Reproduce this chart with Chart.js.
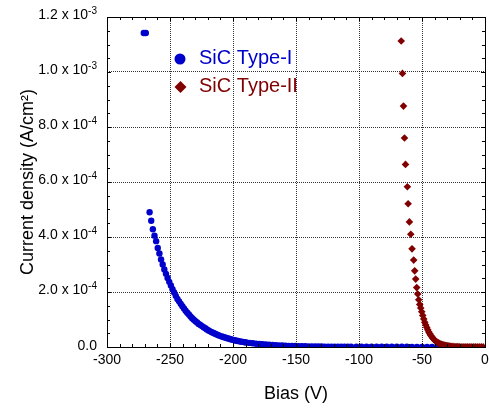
<!DOCTYPE html>
<html>
<head>
<meta charset="utf-8">
<script src="https://cdn.jsdelivr.net/npm/chart.js@4.4.0/dist/chart.umd.min.js"></script>
<style>
    body { margin: 0; background: #fff; }
    #box { width: 489px; height: 411px; }
</style>
</head>
<body>
<div id="box"><canvas id="ivChart" width="489" height="411"></canvas></div>
<script>
// Current density is stored in units of 10^-4 A/cm2
const currentUnitExp = -4;

const biasTicks = [-300, -250, -200, -150, -100, -50, 0];
const currentTicks = [0, 2, 4, 6, 8, 10, 12];

const seriesNames = ['SiC Type-I', 'SiC Type-II'];
const seriesColors = ['#0000cc', '#800000'];

// SiC Type-I : [bias (V), current density]
const typeIPoints = [
    [-270.8, 11.42], [-269.2, 11.42],
    [-266.2, 4.90], [-264.9, 4.59], [-263.6, 4.28], [-262.3, 4.05], [-261.0, 3.85], [-259.7, 3.60],
    [-258.4, 3.40], [-257.1, 3.18], [-255.8, 3.00], [-254.5, 2.82], [-253.2, 2.66], [-251.9, 2.51],
    [-250.6, 2.37], [-249.3, 2.24], [-248.0, 2.10], [-246.7, 1.98], [-245.4, 1.86], [-244.1, 1.75],
    [-242.8, 1.66], [-241.5, 1.57], [-240.2, 1.48], [-238.9, 1.40], [-237.6, 1.32], [-236.3, 1.25],
    [-235.0, 1.18], [-233.7, 1.11], [-232.4, 1.05], [-231.1, 0.99], [-229.8, 0.94], [-228.5, 0.89],
    [-227.2, 0.84], [-225.9, 0.80], [-224.6, 0.76], [-223.3, 0.72], [-222.0, 0.68], [-220.7, 0.64],
    [-219.4, 0.60], [-218.1, 0.57], [-216.8, 0.54], [-215.5, 0.51], [-214.2, 0.48], [-212.9, 0.455],
    [-211.6, 0.43], [-210.3, 0.405], [-209.0, 0.385], [-207.7, 0.365], [-206.4, 0.345], [-205.1, 0.325],
    [-203.8, 0.31], [-202.5, 0.29], [-201.2, 0.275], [-199.9, 0.26], [-198.6, 0.245], [-197.3, 0.23],
    [-196.0, 0.22], [-194.7, 0.205], [-193.4, 0.195], [-192.1, 0.185], [-190.8, 0.175], [-189.5, 0.165],
    [-186.9, 0.15], [-184.3, 0.135], [-181.7, 0.12], [-179.1, 0.11], [-176.5, 0.10], [-173.9, 0.09],
    [-171.3, 0.08], [-168.7, 0.072], [-166.1, 0.065], [-163.5, 0.058], [-160.9, 0.052], [-158.3, 0.047],
    [-155.7, 0.042], [-153.1, 0.038], [-150.5, 0.034], [-147.9, 0.031], [-145.3, 0.028], [-142.7, 0.025],
    [-140.1, 0.023], [-137.5, 0.021], [-134.9, 0.019], [-132.3, 0.017], [-129.7, 0.016], [-127.1, 0.015],
    [-124.5, 0.014], [-121.9, 0.013], [-119.3, 0.012], [-116.7, 0.011], [-114.1, 0.011], [-111.5, 0.010],
    [-108.9, 0.010], [-106.3, 0.009], [-102, 0.009], [-98, 0.009], [-94, 0.008], [-90, 0.008],
    [-86, 0.008], [-82, 0.008], [-78, 0.007], [-74, 0.007], [-70, 0.007], [-66, 0.007],
    [-62, 0.007], [-58, 0.006], [-54, 0.006], [-50, 0.006], [-46, 0.006], [-42, 0.006],
    [-38, 0.006], [-34, 0.006], [-30, 0.005], [-26, 0.005], [-22, 0.005]
];

// SiC Type-II : [bias (V), current density]
const typeIIPoints = [
    [-66.5, 11.13], [-65.5, 9.95], [-64.7, 8.76], [-63.9, 7.60], [-63.1, 6.64], [-61.6, 5.83],
    [-61.0, 5.21], [-60.0, 4.55], [-58.9, 4.10], [-57.9, 3.57], [-56.6, 3.16], [-55.8, 2.77],
    [-55.0, 2.47], [-54.2, 2.16], [-53.4, 1.93], [-52.6, 1.72], [-51.8, 1.55], [-51.0, 1.42],
    [-50.2, 1.28], [-49.4, 1.15], [-48.6, 1.02], [-47.8, 0.90], [-47.0, 0.80], [-46.2, 0.71],
    [-45.4, 0.63], [-44.6, 0.55], [-43.8, 0.48], [-43.0, 0.42], [-42.2, 0.37], [-41.4, 0.32],
    [-40.6, 0.28], [-39.8, 0.24], [-39.0, 0.21], [-38.2, 0.18], [-37.4, 0.16], [-36.6, 0.14],
    [-35.8, 0.12], [-35.0, 0.105], [-34.2, 0.09], [-33.4, 0.08], [-32.6, 0.07], [-31.8, 0.06],
    [-31.0, 0.052], [-30.2, 0.045], [-29.4, 0.04], [-28.6, 0.035], [-27.8, 0.03], [-27.0, 0.028],
    [-25.4, 0.022], [-23.8, 0.018], [-22.2, 0.015], [-20.6, 0.012], [-19.0, 0.010], [-17.4, 0.009],
    [-15.8, 0.008], [-14.2, 0.007], [-12.6, 0.006], [-11.0, 0.006], [-9.4, 0.005], [-7.8, 0.005],
    [-6.2, 0.004], [-4.6, 0.004], [-3.0, 0.003], [-1.4, 0.003]
];

const FONT = "Arial, 'Liberation Sans', sans-serif";

function toXY(points) {
    return points.map(p => ({ x: p[0], y: p[1] }));
}

// Rótulos do eixo Y no formato "m.m x 10^e"
const yLabelsPlugin = {
    id: 'yLabels',
    afterDraw(chart) {
        const ctx = chart.ctx;
        const yScale = chart.scales.y;
        const right = chart.chartArea.left - 10;
        ctx.save();
        ctx.fillStyle = '#000';
        ctx.textAlign = 'right';
        ctx.textBaseline = 'middle';
        currentTicks.forEach(v => {
            const py = yScale.getPixelForValue(v);
            if (v === 0) {
                ctx.font = '14px ' + FONT;
                ctx.fillText('0.0', right, py - 1);
                return;
            }
            let exp = Math.floor(Math.log10(v) + 1e-9);
            const mant = v / Math.pow(10, exp);
            exp += currentUnitExp;
            const sup = String(exp);
            ctx.font = '10px ' + FONT;
            const supW = ctx.measureText(sup).width;
            ctx.fillText(sup, right, py - 6);
            ctx.font = '14px ' + FONT;
            ctx.fillText(mant.toFixed(1) + ' x 10', right - supW, py - 2);
        });
        ctx.restore();
    }
};

// Moldura e marcas internas (maiores e menores)
const frameTicksPlugin = {
    id: 'frameTicks',
    afterDraw(chart) {
        const ctx = chart.ctx;
        const { left, right, top, bottom } = chart.chartArea;
        const xs = chart.scales.x, ys = chart.scales.y;
        ctx.save();
        ctx.strokeStyle = '#000';
        ctx.lineWidth = 1;
        ctx.beginPath();
        for (let v = biasTicks[0]; v <= biasTicks[biasTicks.length - 1]; v += 10) {
            const px = Math.round(xs.getPixelForValue(v)) + 0.5;
            const len = v % 50 === 0 ? 4 : 3;
            ctx.moveTo(px, bottom); ctx.lineTo(px, bottom - len);
            ctx.moveTo(px, top); ctx.lineTo(px, top + len);
        }
        for (let v = currentTicks[0]; v <= currentTicks[currentTicks.length - 1]; v += 0.5) {
            const py = Math.round(ys.getPixelForValue(v)) + 0.5;
            const len = v % 2 === 0 ? 4 : 3;
            ctx.moveTo(left, py); ctx.lineTo(left + len, py);
            ctx.moveTo(right, py); ctx.lineTo(right - len, py);
        }
        ctx.stroke();
        ctx.strokeRect(left + 0.5, top + 0.5, right - left, bottom - top);
        ctx.restore();
    }
};

// Legenda desenhada dentro da área do gráfico
const legendPlugin = {
    id: 'insideLegend',
    afterDraw(chart) {
        const ctx = chart.ctx;
        ctx.save();
        ctx.font = '20px ' + FONT;
        ctx.textAlign = 'left';
        ctx.textBaseline = 'middle';
        // Type-I
        ctx.fillStyle = seriesColors[0];
        ctx.beginPath();
        ctx.arc(180, 59, 5.5, 0, Math.PI * 2);
        ctx.fill();
        ctx.fillText(seriesNames[0], 199, 58);
        // Type-II
        ctx.fillStyle = seriesColors[1];
        ctx.beginPath();
        ctx.moveTo(180.5, 81); ctx.lineTo(186.5, 87); ctx.lineTo(180.5, 93); ctx.lineTo(174.5, 87);
        ctx.closePath();
        ctx.fill();
        ctx.fillText(seriesNames[1], 199, 86);
        ctx.restore();
    }
};

function initChart() {
    const ctx = document.getElementById('ivChart').getContext('2d');
    new Chart(ctx, {
        type: 'scatter',
        data: {
            datasets: [
                {
                    label: seriesNames[0],
                    data: toXY(typeIPoints),
                    pointStyle: 'circle',
                    pointRadius: 3.2,
                    pointBorderWidth: 0,
                    backgroundColor: seriesColors[0],
                    borderColor: seriesColors[0],
                    order: 1
                },
                {
                    label: seriesNames[1],
                    data: toXY(typeIIPoints),
                    pointStyle: 'rectRot',
                    pointRadius: 3.8,
                    pointBorderWidth: 0,
                    backgroundColor: seriesColors[1],
                    borderColor: seriesColors[1],
                    order: 0
                }
            ]
        },
        options: {
            responsive: false,
            animation: false,
            layout: { padding: { top: 17, right: 1, left: 0, bottom: 0 } },
            plugins: {
                legend: { display: false },
                tooltip: { enabled: false }
            },
            scales: {
                x: {
                    type: 'linear',
                    min: biasTicks[0],
                    max: biasTicks[biasTicks.length - 1],
                    afterBuildTicks: function(scale) {
                        scale.ticks = biasTicks.map(v => ({ value: v }));
                    },
                    afterFit: function(scale) {
                        scale.height = 64;
                        scale.paddingLeft = 0;
                        scale.paddingRight = 0;
                    },
                    ticks: {
                        color: '#000',
                        padding: 5,
                        maxRotation: 0,
                        font: { family: FONT, size: 14 },
                        callback: function(value) { return String(value); }
                    },
                    grid: {
                        color: 'rgba(0,0,0,0.8)',
                        lineWidth: 1,
                        drawTicks: false
                    },
                    border: { display: false, dash: [1, 1] },
                    title: {
                        display: true,
                        text: 'Bias (V)',
                        color: '#000',
                        font: { family: FONT, size: 18 },
                        padding: { top: 0, bottom: 6 }
                    }
                },
                y: {
                    type: 'linear',
                    min: currentTicks[0],
                    max: currentTicks[currentTicks.length - 1],
                    afterBuildTicks: function(scale) {
                        scale.ticks = currentTicks.map(v => ({ value: v }));
                    },
                    afterFit: function(scale) {
                        scale.width = 107;
                        scale.paddingTop = 0;
                        scale.paddingBottom = 0;
                    },
                    ticks: { display: false },
                    grid: {
                        color: 'rgba(0,0,0,0.8)',
                        lineWidth: 1,
                        drawTicks: false
                    },
                    border: { display: false, dash: [1, 1] },
                    title: {
                        display: true,
                        text: 'Current density (A/cm\u00B2)',
                        color: '#000',
                        font: { family: FONT, size: 18 },
                        padding: { top: 17, bottom: 0 }
                    }
                }
            }
        },
        plugins: [yLabelsPlugin, frameTicksPlugin, legendPlugin]
    });
}

document.addEventListener('DOMContentLoaded', function() {
    initChart();
});
</script>
</body>
</html>
